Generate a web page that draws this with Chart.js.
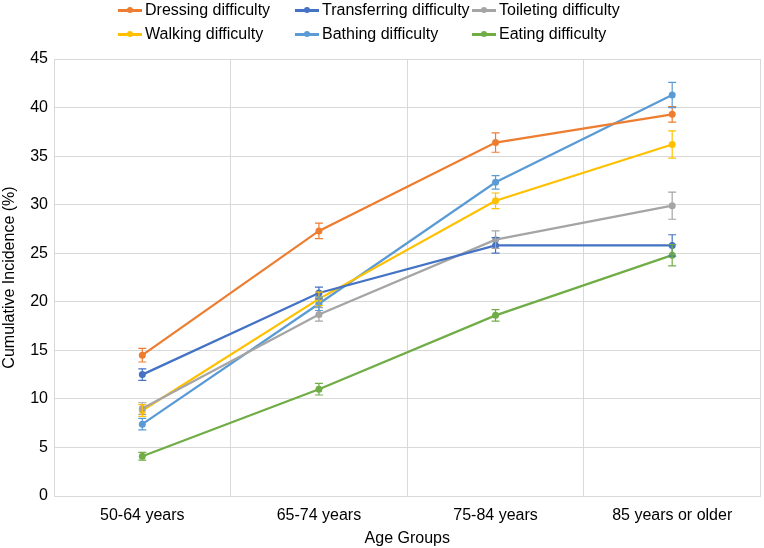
<!DOCTYPE html>
<html>
<head>
<meta charset="utf-8">
<script src="https://cdn.jsdelivr.net/npm/chart.js@4/dist/chart.umd.min.js"></script>
<style>
  html, body { margin: 0; padding: 0; background: #fff; }
  #wrap { position: relative; width: 764px; height: 548px; }
  #legend { position: absolute; left: 116px; top: 0; width: 540px; font-family: "Liberation Sans", Arial, sans-serif; font-size: 16px; color: #000; }
  .item { position: absolute; height: 20px; line-height: 20px; white-space: nowrap; }
  .mk { position: absolute; left: 0; top: 9px; width: 24px; height: 2.5px; }
  .dot { position: absolute; left: 9px; top: -2px; width: 6px; height: 6px; border-radius: 50%; }
  .lbl { position: absolute; left: 27px; top: 0; }
</style>
</head>
<body>
<div id="wrap">
  <canvas id="c" width="764" height="548"></canvas>
  <div id="legend"></div>
</div>
<script>
const categories = ["50-64 years", "65-74 years", "75-84 years", "85 years or older"];
const seriesNames = ["Dressing difficulty", "Transferring difficulty", "Toileting difficulty", "Walking difficulty", "Bathing difficulty", "Eating difficulty"];
const dressing = [14.5, 27.3, 36.4, 39.3];
const transferring = [12.5, 20.9, 25.8, 25.8];
const toileting = [9.0, 18.7, 26.4, 29.9];
const walking = [8.8, 20.3, 30.4, 36.2];
const bathing = [7.4, 19.8, 32.3, 41.3];
const eating = [4.1, 11.0, 18.6, 24.8];
const dressingErr = [0.7, 0.8, 1.0, 0.8];
const transferringErr = [0.6, 0.6, 0.8, 1.1];
const toiletingErr = [0.6, 0.7, 0.9, 1.4];
const walkingErr = [0.6, 0.7, 0.8, 1.4];
const bathingErr = [0.6, 0.7, 0.7, 1.3];
const eatingErr = [0.4, 0.6, 0.6, 1.1];
const colors = ["#ED7D31", "#4472C4", "#A5A5A5", "#FFC000", "#5B9BD5", "#70AD47"];

const values = [dressing, transferring, toileting, walking, bathing, eating];
const errs = [dressingErr, transferringErr, toiletingErr, walkingErr, bathingErr, eatingErr];
const FONT = "'Liberation Sans', Arial, sans-serif";

const datasets = seriesNames.map((n, i) => ({
  label: n,
  data: values[i],
  errors: errs[i],
  borderColor: colors[i],
  backgroundColor: colors[i],
  borderWidth: 2.25,
  pointRadius: 3.5,
  pointHoverRadius: 3.5,
  pointBorderWidth: 0,
  tension: 0
}));

const errorBars = {
  id: 'errorBars',
  afterDatasetsDraw(chart) {
    const ctx = chart.ctx;
    const ys = chart.scales.y;
    chart.data.datasets.forEach((ds, i) => {
      const meta = chart.getDatasetMeta(i);
      ctx.save();
      ctx.strokeStyle = ds.borderColor;
      ctx.lineWidth = 1.2;
      meta.data.forEach((pt, j) => {
        const v = ds.data[j], e = ds.errors[j];
        const x = pt.x;
        const y1 = ys.getPixelForValue(v - e), y2 = ys.getPixelForValue(v + e);
        ctx.beginPath();
        ctx.moveTo(x, y1); ctx.lineTo(x, y2);
        ctx.moveTo(x - 4, y1); ctx.lineTo(x + 4, y1);
        ctx.moveTo(x - 4, y2); ctx.lineTo(x + 4, y2);
        ctx.stroke();
      });
      ctx.restore();
    });
  }
};

new Chart(document.getElementById('c'), {
  type: 'line',
  data: { labels: categories, datasets },
  options: {
    responsive: false,
    animation: false,
    layout: { padding: { top: 59, right: 2, left: 0, bottom: 0 } },
    plugins: { legend: { display: false }, tooltip: { enabled: false } },
    scales: {
      x: {
        offset: true,
        grid: { offset: true, color: '#D9D9D9', lineWidth: 1, drawTicks: false },
        border: { color: '#D9D9D9' },
        ticks: { color: '#000', font: { family: FONT, size: 16 }, padding: 10, maxRotation: 0 },
        title: { display: true, text: 'Age Groups', color: '#000', font: { family: FONT, size: 16 }, padding: { top: 0, bottom: 0 } },
        afterFit(s) { s.height = 52; }
      },
      y: {
        min: 0, max: 45,
        ticks: { stepSize: 5, color: '#000', font: { family: FONT, size: 16 }, padding: 6 },
        grid: { color: '#D9D9D9', lineWidth: 1, drawTicks: false },
        border: { color: '#D9D9D9' },
        title: { display: true, text: 'Cumulative Incidence (%)', color: '#000', font: { family: FONT, size: 16 }, padding: { top: 0, bottom: 0 } },
        afterFit(s) { s.width = 54; }
      }
    }
  },
  plugins: [errorBars]
});

// HTML legend, 3 columns x 2 rows
const leg = document.getElementById('legend');
seriesNames.forEach((n, i) => {
  const col = i % 3, row = Math.floor(i / 3);
  const d = document.createElement('div');
  d.className = 'item';
  d.style.left = (col * 177 + 2) + 'px';
  d.style.top = (row * 24) + 'px';
  d.innerHTML = '<div class="mk" style="background:' + colors[i] + '"><div class="dot" style="background:' + colors[i] + '"></div></div><span class="lbl">' + n + '</span>';
  leg.appendChild(d);
});
</script>
</body>
</html>
